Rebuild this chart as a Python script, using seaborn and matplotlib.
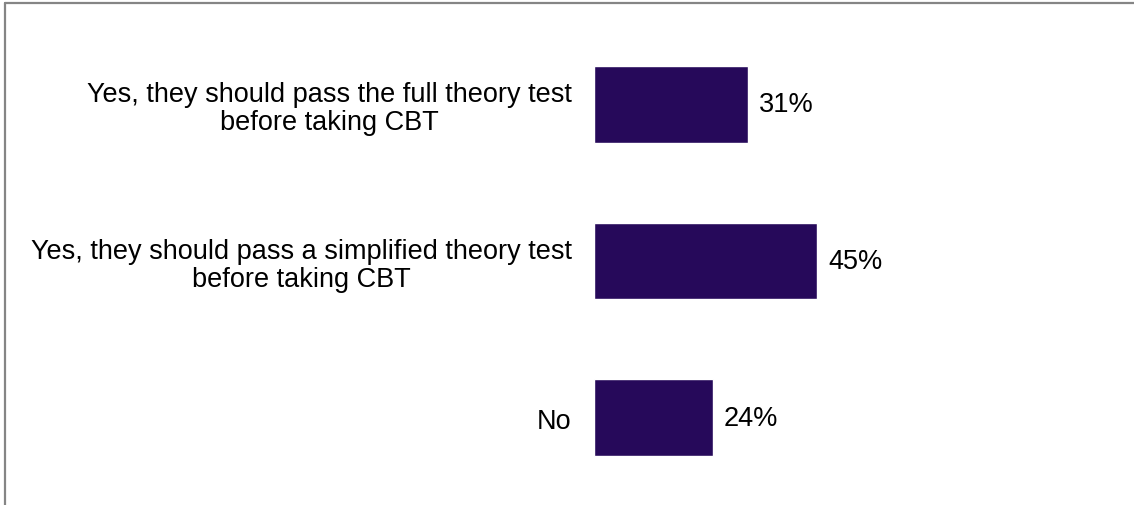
import matplotlib
matplotlib.use("Agg")
import matplotlib.pyplot as plt
import seaborn as sns
import pandas as pd
from matplotlib.lines import Line2D

answers = [
    "Yes, they should pass the full theory test\nbefore taking CBT",
    "Yes, they should pass a simplified theory test\nbefore taking CBT",
    "No",
]
shares = [31, 45, 24]
value_labels = ["31%", "45%", "24%"]

df = pd.DataFrame({"Answer": answers, "Share": shares})

sns.set_theme(style="white")
plt.rcParams['font.family'] = ['Liberation Sans', 'DejaVu Sans']

W, H = 1134, 506
fig = plt.figure(figsize=(W / 100, H / 100), dpi=100)
# axes spans 27px..497px from the top
ax = fig.add_axes([594 / W, 9 / H, (1131 - 594) / W, 470 / H])

sns.barplot(data=df, x="Share", y="Answer", orient="h", color="#26095a",
            saturation=1, width=0.49, ax=ax)

ax.set_xlim(0, 108.3)
ax.set_ylim(2.5, -0.5)
ax.set_xlabel("")
ax.set_ylabel("")
ax.set_xticks([])
for s in ax.spines.values():
    s.set_visible(False)
ax.tick_params(axis="y", length=0, pad=16, labelsize=19.5, labelcolor="black")
for lab in ax.get_yticklabels():
    lab.set_multialignment("center")
    lab.set_linespacing(1.1)

texts = ax.bar_label(ax.containers[0], labels=value_labels, padding=8,
                     fontsize=19.5, color="black")
for t in texts:
    t.set_y(t.get_position()[1])

# frame of the screenshot (top and left edge)
fig.add_artist(Line2D([5 / W, 1], [1 - 4 / H, 1 - 4 / H], color="#858585", lw=1.6))
fig.add_artist(Line2D([5 / W, 5 / W], [0, 1 - 4 / H], color="#858585", lw=1.6))

fig.savefig("out.png", dpi=100, facecolor="white")
